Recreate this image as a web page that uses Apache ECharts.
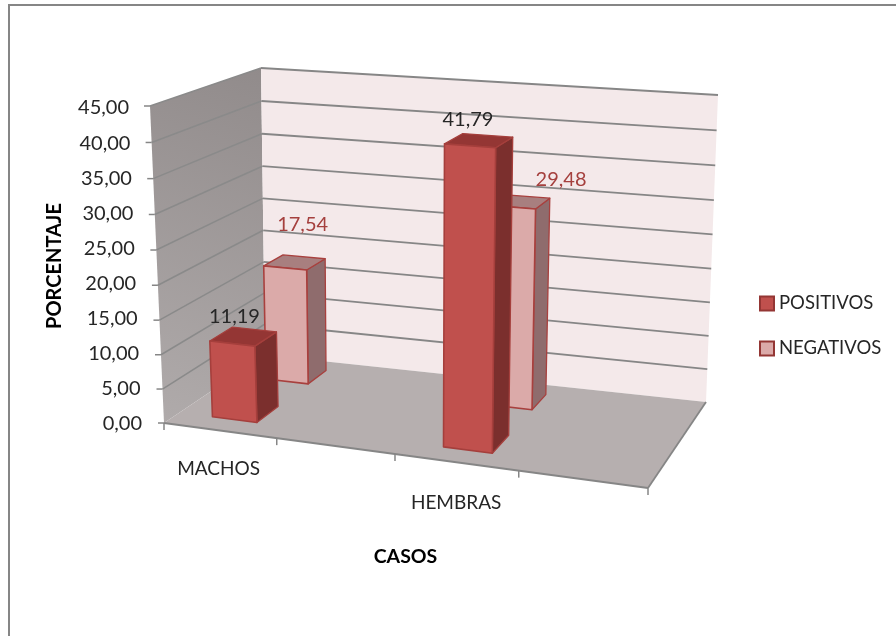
<!DOCTYPE html>
<html><head><meta charset="utf-8">
<style>html,body{margin:0;padding:0;background:#fff}#c{width:896px;height:636px}</style>
<script src="https://cdn.jsdelivr.net/npm/echarts@6/dist/echarts.min.js"></script>
</head><body><div id="c"></div>
<script>
// ---- data ----
const categories = ['MACHOS', '', 'HEMBRAS', ''];
const positivos = [11.19, null, 41.79, null];
const negativos = [17.54, null, 29.48, null];
const yTicks = [0, 5, 10, 15, 20, 25, 30, 35, 40, 45];
const yMax = 45;

// ---- view of the 3D box (unit-cube corners in pixels) ----
const FLB=[164,423], FRB=[648,488], BLB=[265,355], BRB=[706,402];
const FLT=[150,106], FRT=[660,143], BLT=[261,68],  BRT=[718,95];
const mix=(a,b,k)=>[a[0]+(b[0]-a[0])*k, a[1]+(b[1]-a[1])*k];
const warpU=u=>u*(0.909+0.091*u);
const warpT=t=>t*(0.96+0.04*t);
function project(u,w,t){
  const uu=warpU(u), tt=warpT(t);
  const bot=mix(mix(FLB,FRB,uu),mix(BLB,BRB,uu),w);
  const top=mix(mix(FLT,FRT,uu),mix(BLT,BRT,uu),w);
  return mix(bot,top,tt);
}
const GRID={left:163,top:108,right:896-648,bottom:636-424};
const fontFamily='Lato, "Open Sans", sans-serif';
const textColor='#262626';
const gridColor='#868686';

const poly=(points,fill,stroke,lw)=>({type:'polygon',shape:{points},style:{fill,stroke:stroke||'none',lineWidth:lw||0,lineJoin:'round'}});
const seg=(a,b,lw,color)=>({type:'line',shape:{x1:a[0],y1:a[1],x2:b[0],y2:b[1]},style:{stroke:color||gridColor,lineWidth:lw}});

function tOf(api,params,v){
  const cs=params.coordSys;
  return (cs.y+cs.height-api.coord([0,v])[1])/cs.height;
}
function renderWalls(params,api){
  const cs=params.coordSys, ch=[];
  ch.push(poly([project(0,0,0),project(0,1,0),project(0,1,1),project(0,0,1)],
    {type:'linear',x:1,y:0,x2:0,y2:1,colorStops:[{offset:0,color:'#918b8b'},{offset:1,color:'#b0abab'}]}));
  ch.push(poly([project(0,1,0),project(1,1,0),project(1,1,1),project(0,1,1)],'#f4e9ea'));
  ch.push(poly([project(0,0,0),project(1,0,0),project(1,1,0),project(0,1,0)],'#b6afaf'));
  yTicks.forEach(v=>{
    const t=tOf(api,params,v);
    const a=project(0,0,t),b=project(0,1,t),c=project(1,1,t);
    ch.push(seg([a[0]-6,a[1]],a,1.5));
    if(v>0){ ch.push(seg(a,b,1.5,'#8a8a8a')); ch.push(seg(b,c,1.8)); }
  });
  ch.push(seg(project(0,0,0),project(1,0,0),1.8));
  ch.push(seg(project(1,0,0),project(1,1,0),1.8));
  categories.concat(['']).forEach((_,i)=>{
    const p=project((api.coord([i,0])[0]-api.size([1,0])[0]/2-cs.x)/cs.width,0,0);
    ch.push(seg(p,[p[0],p[1]+7],1.5));
  });
  return {type:'group',children:ch};
}
const BAND_FROM=0.30, BAND_TO=0.70;
function barRenderer(depthFrom,depthTo,colors,labelOffsets){
  return function(params,api){
    const v=api.value(1);
    if(isNaN(v)) return;
    const cs=params.coordSys, idx=api.value(0);
    const bw=api.size([1,0])[0], left=api.coord([idx,0])[0]-bw/2;
    const u0=(left+BAND_FROM*bw-cs.x)/cs.width, u1=(left+BAND_TO*bw-cs.x)/cs.width;
    const t=tOf(api,params,v), w0=depthFrom, w1=depthTo;
    const P=(u,w,tt)=>project(u,w,tt);
    const front=[P(u0,w0,0),P(u1,w0,0),P(u1,w0,t),P(u0,w0,t)];
    const side=[P(u1,w0,0),P(u1,w1,0),P(u1,w1,t),P(u1,w0,t)];
    const top=[P(u0,w0,t),P(u1,w0,t),P(u1,w1,t),P(u0,w1,t)];
    const c=top.reduce((s,p)=>[s[0]+p[0]/4,s[1]+p[1]/4],[0,0]);
    const off=labelOffsets[idx];
    return {type:'group',children:[
      poly(side,colors.side,colors.edge,1.3),
      poly(top,colors.top,colors.edge,1.3),
      poly(front,colors.front,colors.edge,1.6),
      {type:'text',z2:10,style:{text:v.toFixed(2).replace('.',','),x:c[0]+off[0],y:c[1]+off[1],
        fill:colors.label,font:'20px '+fontFamily,textAlign:'center',textVerticalAlign:'middle'}}
    ]};
  };
}
const POS={front:'#c0504d',top:'#943634',side:'#7b2f2d',edge:'#a53f3c',label:textColor};
const NEG={front:'#dbaaa9',top:'#a87f7f',side:'#8f6c6d',edge:'#a8403e',label:'#a5403e'};
const toPairs=a=>a.map((v,i)=>[i,v]).filter(d=>d[1]!==null);

const richY={};
yTicks.forEach(v=>{richY['y'+v]={padding:[0,13*v/45,0,0],fontSize:20,fontFamily,color:textColor};});
const xLabelStyle={MACHOS:{pr:10,pt:3},HEMBRAS:{pr:20,pt:37}};
const richX={};
Object.keys(xLabelStyle).forEach(k=>{richX[k]={padding:[xLabelStyle[k].pt,xLabelStyle[k].pr,0,0],fontSize:19,fontFamily,color:textColor};});

const chart=echarts.init(document.getElementById('c'),null,{renderer:'canvas'});
chart.setOption({
  animation:false,
  backgroundColor:'#ffffff',
  graphic:[{type:'rect',silent:true,z:-1,shape:{x:9,y:5,width:1000,height:1000},style:{fill:'none',stroke:'#868686',lineWidth:2}}],
  grid:GRID,
  legend:{orient:'vertical',left:754,top:289,itemWidth:14,itemHeight:14,itemGap:26,selectedMode:false,
    textStyle:{fontFamily,fontSize:18.5,color:textColor},
    data:[
      {name:'POSITIVOS',icon:'rect',itemStyle:{color:'#c0504d',borderColor:'#943634',borderWidth:2}},
      {name:'NEGATIVOS',icon:'rect',itemStyle:{color:'#dbaaa9',borderColor:'#943634',borderWidth:2}}
    ]},
  xAxis:{type:'category',data:categories,
    name:'CASOS',nameLocation:'middle',nameGap:123,
    nameTextStyle:{fontFamily,fontSize:19.5,fontWeight:'bold',color:'#000'},
    axisLine:{show:false},axisTick:{show:false},splitLine:{show:false},
    axisLabel:{interval:0,margin:32,formatter:v=>v?`{${v}|${v}}`:'',rich:richX}},
  yAxis:{type:'value',min:0,max:yMax,interval:5,
    name:'PORCENTAJE',nameLocation:'middle',nameGap:94,nameRotate:90,
    nameTextStyle:{fontFamily,fontSize:20,fontWeight:'bold',color:'#000',padding:[0,0,4,0]},
    axisLine:{show:false},axisTick:{show:false},splitLine:{show:false},
    axisLabel:{margin:21,formatter:v=>`{y${v}|${v.toFixed(2).replace('.',',')}}`,rich:richY}},
  series:[
    {type:'custom',name:'walls',silent:true,coordinateSystem:'cartesian2d',clip:false,data:[[0,0]],renderItem:renderWalls,z:1},
    {type:'custom',name:'NEGATIVOS',silent:true,coordinateSystem:'cartesian2d',clip:false,data:toPairs(negativos),
      itemStyle:{color:NEG.front},renderItem:barRenderer(0.70,0.89,NEG,{0:[8,-38],2:[42,-22]}),z:2},
    {type:'custom',name:'POSITIVOS',silent:true,coordinateSystem:'cartesian2d',clip:false,data:toPairs(positivos),
      itemStyle:{color:POS.front},renderItem:barRenderer(0.155,0.38,POS,{0:[-9,-20],2:[-11,-21]}),z:3}
  ]
});
</script></body></html>
